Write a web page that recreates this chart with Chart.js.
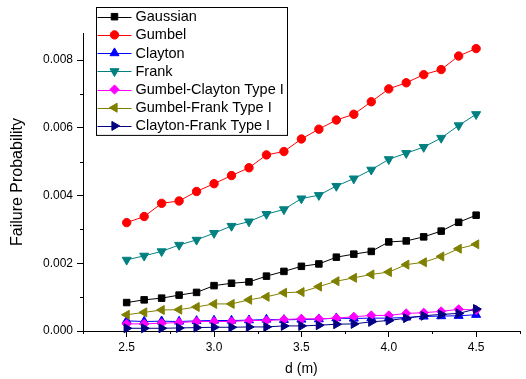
<!DOCTYPE html>
<html lang="en">
<head>
  <meta charset="UTF-8" />
  <title>Failure Probability vs d</title>
  <script src="https://cdn.jsdelivr.net/npm/chart.js"></script>
  <style>
    body { margin: 0; background: #fff; }
  </style>
</head>
<body>
  <canvas id="fpChart" width="526" height="379"></canvas>

  <script>
    // distance d (m)
    const d = [2.5, 2.6, 2.7, 2.8, 2.9, 3.0, 3.1, 3.2, 3.3, 3.4, 3.5, 3.6, 3.7, 3.8, 3.9, 4.0, 4.1, 4.2, 4.3, 4.4, 4.5];

    const gaussian = [0.00084, 0.00092, 0.00097, 0.00106, 0.00114, 0.00134, 0.00141, 0.00145, 0.00162, 0.00176, 0.00191, 0.00198, 0.00218, 0.00227, 0.00235, 0.00263, 0.00266, 0.00278, 0.00295, 0.00321, 0.00342];
    const gumbel = [0.00320, 0.00338, 0.00377, 0.00384, 0.00412, 0.00435, 0.00459, 0.00482, 0.00520, 0.00530, 0.00567, 0.00596, 0.00623, 0.00640, 0.00677, 0.00715, 0.00733, 0.00757, 0.00772, 0.00812, 0.00834];
    const clayton = [0.00030, 0.00028, 0.00029, 0.00028, 0.00030, 0.00031, 0.00031, 0.00032, 0.00034, 0.00033, 0.00034, 0.00035, 0.00038, 0.00037, 0.00038, 0.00038, 0.00040, 0.00043, 0.00044, 0.00045, 0.00048];
    const frank = [0.00210, 0.00222, 0.00235, 0.00254, 0.00269, 0.00289, 0.00310, 0.00323, 0.00345, 0.00359, 0.00391, 0.00401, 0.00428, 0.00450, 0.00476, 0.00507, 0.00525, 0.00543, 0.00570, 0.00607, 0.00640];
    const gumbelClayton = [0.00021, 0.00021, 0.00023, 0.00025, 0.00028, 0.00028, 0.00028, 0.00031, 0.00031, 0.00034, 0.00036, 0.00036, 0.00038, 0.00042, 0.00046, 0.00046, 0.00052, 0.00054, 0.00058, 0.00064, 0.00062];
    const gumbelFrank = [0.00048, 0.00055, 0.00062, 0.00063, 0.00071, 0.00080, 0.00080, 0.00092, 0.00101, 0.00113, 0.00115, 0.00131, 0.00147, 0.00157, 0.00167, 0.00174, 0.00196, 0.00203, 0.00220, 0.00243, 0.00256];
    const claytonFrank = [0.00008, 0.00008, 0.00008, 0.00009, 0.00010, 0.00011, 0.00011, 0.00012, 0.00012, 0.00015, 0.00015, 0.00017, 0.00020, 0.00021, 0.00027, 0.00031, 0.00038, 0.00045, 0.00049, 0.00052, 0.00065];

    const seriesNames = ['Gaussian', 'Gumbel', 'Clayton', 'Frank', 'Gumbel-Clayton Type I', 'Gumbel-Frank Type I', 'Clayton-Frank Type I'];
    const seriesValues = [gaussian, gumbel, clayton, frank, gumbelClayton, gumbelFrank, claytonFrank];
    const seriesColors = ['#000000', '#ff0000', '#0000ff', '#008080', '#ff00ff', '#808000', '#000080'];

    const xTicks = [2.5, 3.0, 3.5, 4.0, 4.5];
    const yTicks = [0.000, 0.002, 0.004, 0.006, 0.008];

    // marker shape per series: [pointStyle, rotation, radius]
    const markers = [
      ['rect', 0, 4.6],
      ['circle', 0, 4.2],
      ['triangle', 0, 5.2],
      ['triangle', 180, 5.2],
      ['rectRot', 0, 4.6],
      ['triangle', 270, 5.2],
      ['triangle', 90, 5.2]
    ];

    const FONT = '"Liberation Sans", Arial, sans-serif';

    const isMajor = (v, list) => list.some(t => Math.abs(t - v) < 1e-9);

    const datasets = seriesNames.map((name, i) => ({
      label: name,
      data: d.map((x, k) => ({ x: x, y: seriesValues[i][k] })),
      borderColor: seriesColors[i],
      backgroundColor: seriesColors[i],
      borderWidth: 1,
      pointStyle: markers[i][0],
      pointRotation: markers[i][1],
      pointRadius: markers[i][2],
      pointBorderWidth: 1,
      pointBackgroundColor: seriesColors[i],
      pointBorderColor: seriesColors[i],
      tension: 0,
      fill: false,
      clip: false,
      order: seriesNames.length - i
    }));

    // short minor ticks on both axes
    const minorTicks = {
      id: 'minorTicks',
      afterDraw(chart) {
        const ctx = chart.ctx;
        const xs = chart.scales.x, ys = chart.scales.y;
        ctx.save();
        ctx.strokeStyle = '#000';
        ctx.lineWidth = 1;
        ctx.beginPath();
        xs.ticks.forEach(t => {
          if (isMajor(t.value, xTicks)) return;
          const px = Math.round(xs.getPixelForValue(t.value)) + 0.5;
          ctx.moveTo(px, chart.chartArea.bottom);
          ctx.lineTo(px, chart.chartArea.bottom + 3);
        });
        ys.ticks.forEach(t => {
          if (isMajor(t.value, yTicks) || t.value > 0.0085) return;
          const py = Math.round(ys.getPixelForValue(t.value)) + 0.5;
          ctx.moveTo(chart.chartArea.left - 3, py);
          ctx.lineTo(chart.chartArea.left, py);
        });
        ctx.stroke();
        ctx.restore();
      }
    };

    // boxed legend with line + marker samples
    const boxLegend = {
      id: 'boxLegend',
      afterDraw(chart) {
        const ctx = chart.ctx;
        const left = 96.5, top = 7.5, w = 191, rowH = 18.2;
        const h = rowH * seriesNames.length + 0.5;
        ctx.save();
        ctx.fillStyle = '#fff';
        ctx.fillRect(left, top, w, h);
        ctx.strokeStyle = '#000';
        ctx.lineWidth = 1;
        ctx.strokeRect(left, top, w, h);
        ctx.font = '14.5px ' + FONT;
        ctx.textBaseline = 'middle';
        seriesNames.forEach((name, i) => {
          const cy = top + 9.2 + i * rowH;
          ctx.strokeStyle = seriesColors[i];
          ctx.fillStyle = seriesColors[i];
          ctx.lineWidth = 1;
          ctx.beginPath();
          ctx.moveTo(left + 1, Math.round(cy) + 0.5);
          ctx.lineTo(left + 35, Math.round(cy) + 0.5);
          ctx.stroke();
          Chart.helpers.drawPoint(ctx, {
            pointStyle: markers[i][0],
            rotation: markers[i][1],
            radius: markers[i][2],
            borderWidth: 1
          }, left + 18, cy);
          ctx.fillStyle = '#000';
          ctx.fillText(name, left + 39, cy + 0.5);
        });
        ctx.restore();
      }
    };

    new Chart(document.getElementById('fpChart'), {
      type: 'line',
      data: { datasets: datasets },
      plugins: [minorTicks, boxLegend],
      options: {
        responsive: false,
        devicePixelRatio: 1,
        animation: false,
        layout: { padding: { top: 33, left: 0, right: 0, bottom: 0 } },
        plugins: {
          legend: { display: false },
          tooltip: { enabled: false }
        },
        scales: {
          x: {
            type: 'linear',
            min: 2.25,
            max: 4.75,
            afterFit(scale) { scale.height = 48; },
            afterBuildTicks(scale) {
              scale.ticks = [2.25, 2.5, 2.75, 3.0, 3.25, 3.5, 3.75, 4.0, 4.25, 4.5, 4.75].map(v => ({ value: v }));
            },
            border: { display: true, color: '#000', width: 1 },
            grid: {
              drawOnChartArea: false,
              drawTicks: true,
              tickLength: 6,
              tickColor: c => isMajor(c.tick.value, xTicks) ? '#000' : 'rgba(0,0,0,0)'
            },
            ticks: {
              color: '#000',
              padding: 3,
              maxRotation: 0,
              autoSkip: false,
              font: { family: FONT, size: 12 },
              callback: v => isMajor(v, xTicks) ? v.toFixed(1) : ''
            },
            title: {
              display: true,
              text: 'd (m)',
              color: '#000',
              font: { family: FONT, size: 14 },
              padding: { top: 0, bottom: 1 }
            }
          },
          y: {
            type: 'linear',
            min: 0,
            max: 0.0088,
            afterFit(scale) { scale.width = 83; },
            afterBuildTicks(scale) {
              scale.ticks = [0, 0.001, 0.002, 0.003, 0.004, 0.005, 0.006, 0.007, 0.008].map(v => ({ value: v }));
            },
            border: { display: true, color: '#000', width: 1 },
            grid: {
              drawOnChartArea: false,
              drawTicks: true,
              tickLength: 6,
              tickColor: c => isMajor(c.tick.value, yTicks) ? '#000' : 'rgba(0,0,0,0)'
            },
            ticks: {
              color: '#000',
              padding: 4,
              autoSkip: false,
              font: { family: FONT, size: 12 },
              callback: v => isMajor(v, yTicks) ? v.toFixed(3) : ''
            },
            title: {
              display: true,
              text: 'Failure Probability',
              color: '#000',
              font: { family: FONT, size: 16 },
              padding: { top: 8, bottom: 0 }
            }
          }
        }
      }
    });
  </script>
</body>
</html>
